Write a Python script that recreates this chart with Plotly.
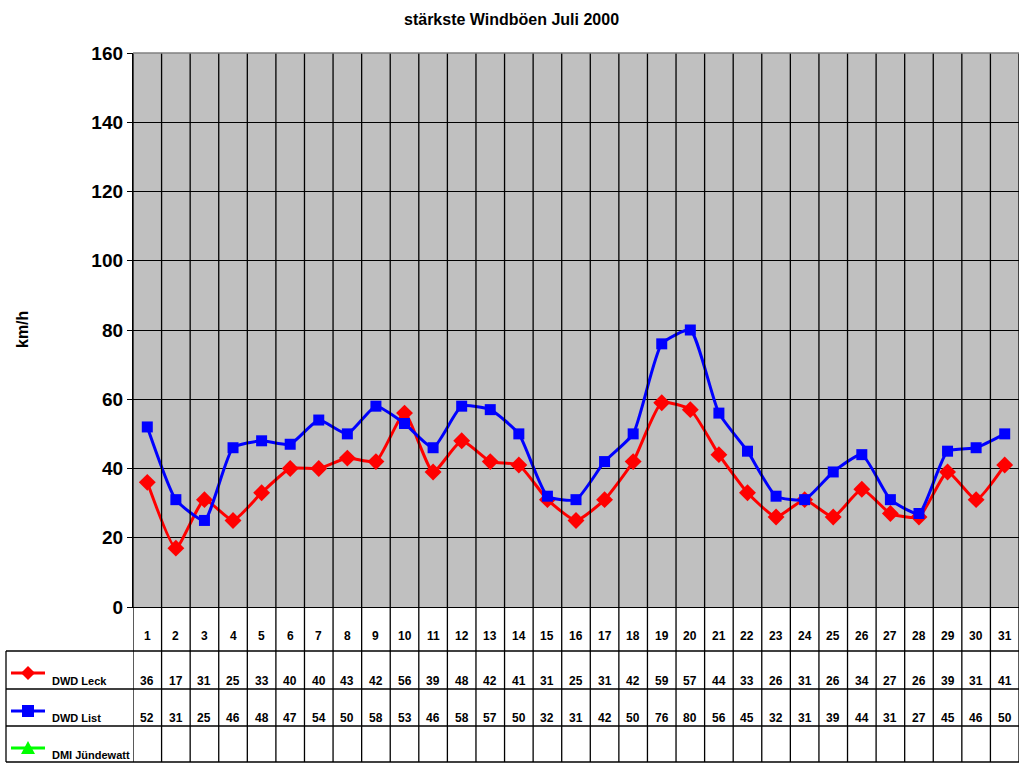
import plotly.graph_objects as go

# --- Data ---
days = list(range(1, 32))
leck = [36, 17, 31, 25, 33, 40, 40, 43, 42, 56, 39, 48, 42, 41, 31, 25,
        31, 42, 59, 57, 44, 33, 26, 31, 26, 34, 27, 26, 39, 31, 41]
list_vals = [52, 31, 25, 46, 48, 47, 54, 50, 58, 53, 46, 58, 57, 50, 32, 31,
             42, 50, 76, 80, 56, 45, 32, 31, 39, 44, 31, 27, 45, 46, 50]
jundewatt = [None] * 31
series_names = ["DWD Leck", "DWD List", "DMI Jündewatt"]
series_colors = ["#FF0000", "#0000FF", "#00FF00"]
y_ticks = [0, 20, 40, 60, 80, 100, 120, 140, 160]

W, H = 1024, 768
FONT = "Arial, Liberation Sans, sans-serif"


def px_x(x):
    return x / W


def px_y(y):
    return 1 - y / H


fig = go.Figure()
fig.add_trace(go.Scatter(
    x=days, y=leck, mode="lines+markers", name=series_names[0],
    line=dict(color=series_colors[0], width=3, shape="spline", smoothing=0.5),
    marker=dict(symbol="diamond", size=13, color=series_colors[0]),
))
fig.add_trace(go.Scatter(
    x=days, y=list_vals, mode="lines+markers", name=series_names[1],
    line=dict(color=series_colors[1], width=3, shape="spline", smoothing=0.5),
    marker=dict(symbol="square", size=11, color=series_colors[1]),
))

shapes = []
annotations = []

# vertical grid / table lines at day boundaries
for i in range(len(days) + 1):
    shapes.append(dict(type="line", xref="x", yref="paper",
                       x0=i + 0.5, x1=i + 0.5, y0=px_y(762), y1=px_y(53),
                       line=dict(color="black", width=1.3)))
# table horizontal lines
for yy in [651, 689, 726, 762]:
    shapes.append(dict(type="line", xref="paper", yref="paper",
                       x0=px_x(6), x1=px_x(1019), y0=px_y(yy), y1=px_y(yy),
                       line=dict(color="black", width=1.3)))
shapes.append(dict(type="line", xref="paper", yref="paper",
                   x0=px_x(6), x1=px_x(6), y0=px_y(651), y1=px_y(762),
                   line=dict(color="black", width=1.3)))
# plot border top
shapes.append(dict(type="line", xref="paper", yref="paper",
                   x0=px_x(133), x1=px_x(1019), y0=px_y(53), y1=px_y(53),
                   line=dict(color="#808080", width=1.3)))

# day numbers row
for d in days:
    annotations.append(dict(x=d, y=px_y(636), xref="x", yref="paper",
                            text=str(d), showarrow=False, yanchor="middle",
                            font=dict(size=12, family=FONT, color="black", weight="bold")))
# value rows
for vals, yy in [(leck, 681), (list_vals, 718)]:
    for d, v in zip(days, vals):
        annotations.append(dict(x=d, y=px_y(yy), xref="x", yref="paper",
                                text=str(v), showarrow=False, yanchor="middle",
                                font=dict(size=12, family=FONT, color="black", weight="bold")))

# legend keys in the table
key_rows = [(673, 681), (711, 718), (748, 755)]
for name, color, (ky, ty) in zip(series_names, series_colors, key_rows):
    shapes.append(dict(type="line", xref="paper", yref="paper",
                       x0=px_x(11), x1=px_x(45), y0=px_y(ky), y1=px_y(ky),
                       line=dict(color=color, width=3)))
    annotations.append(dict(x=px_x(50), y=px_y(ty), xref="paper", yref="paper",
                            text=name, showarrow=False, xanchor="left", yanchor="middle",
                            font=dict(size=11, family=FONT, color="black", weight="bold")))

cx = 28
# diamond
shapes.append(dict(type="path", xref="paper", yref="paper",
                   path=f"M {px_x(cx - 7)} {px_y(673)} L {px_x(cx)} {px_y(666)} "
                        f"L {px_x(cx + 7)} {px_y(673)} L {px_x(cx)} {px_y(680)} Z",
                   fillcolor=series_colors[0], line=dict(width=0)))
# square
shapes.append(dict(type="rect", xref="paper", yref="paper",
                   x0=px_x(cx - 6), x1=px_x(cx + 6), y0=px_y(705), y1=px_y(717),
                   fillcolor=series_colors[1], line=dict(width=0)))
# triangle
shapes.append(dict(type="path", xref="paper", yref="paper",
                   path=f"M {px_x(cx - 7)} {px_y(754)} L {px_x(cx)} {px_y(741)} "
                        f"L {px_x(cx + 7)} {px_y(754)} Z",
                   fillcolor=series_colors[2], line=dict(width=0)))

annotations.append(dict(x=px_x(511), y=px_y(20), xref="paper", yref="paper",
                        text="stärkste Windböen Juli 2000", showarrow=False, yanchor="middle",
                        font=dict(size=16, family=FONT, color="black", weight="bold")))
annotations.append(dict(x=px_x(22), y=px_y(330), xref="paper", yref="paper",
                        text="km/h", showarrow=False, textangle=-90,
                        xanchor="center", yanchor="middle",
                        font=dict(size=16, family=FONT, color="black", weight="bold")))

fig.update_layout(
    width=W, height=H,
    margin=dict(l=0, r=0, t=0, b=0, pad=0),
    paper_bgcolor="white",
    plot_bgcolor="#C0C0C0",
    showlegend=False,
    shapes=shapes,
    annotations=annotations,
    xaxis=dict(domain=[px_x(133), px_x(1019)], range=[0.5, 31.5],
               showgrid=False, showticklabels=False, zeroline=False,
               showline=True, linecolor="black", linewidth=1.3, automargin=False),
    yaxis=dict(domain=[px_y(607), px_y(53)], range=[0, 160],
               tickvals=y_ticks, showgrid=True, gridcolor="black", gridwidth=1.3,
               zeroline=False, showline=True, linecolor="black", linewidth=1.3,
               ticks="outside", ticklen=5, tickcolor="black", automargin=False,
               tickfont=dict(size=19, family=FONT, color="black", weight="bold")),
)

fig.write_html("out.html", config={"displayModeBar": False},
               post_script="document.body.style.margin='0';document.body.style.overflow='hidden';")
